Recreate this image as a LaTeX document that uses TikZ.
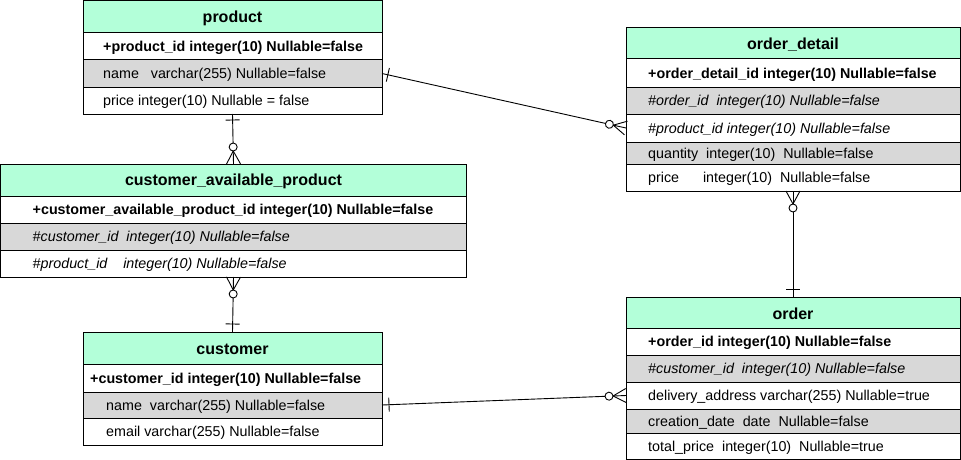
\documentclass[tikz,border=0pt]{standalone}
\usepackage{fontspec}
\setmainfont{Liberation Sans}
\usetikzlibrary{decorations.markings}
\definecolor{mint}{RGB}{179,255,217}
\definecolor{rowgray}{RGB}{216,216,216}
\tikzset{
  cell/.style={draw=black, line width=1pt, anchor=north west, inner sep=0pt, outer sep=0pt},
  hdrcell/.style={cell, fill=mint, font=\bfseries\fontsize{16}{19}\selectfont},
  celltext/.style={anchor=west, inner sep=0pt, font=\fontsize{14.3}{17}\selectfont},
  rel/.style={draw=black, line width=0.9pt},
  barstart/.style={postaction={decorate, decoration={markings,
      mark=at position #1 with {\draw[rel] (0pt,-7pt) -- (0pt,7pt);}}}},
  barend/.style={postaction={decorate, decoration={markings,
      mark=at position -#1 with {\draw[rel] (0pt,-7pt) -- (0pt,7pt);}}}},
  crowstart/.style={postaction={decorate, decoration={markings,
      mark=at position 17pt with {\draw[rel] (-4pt,0pt) -- (-17pt,7pt) (-4pt,0pt) -- (-17pt,-7pt);
        \draw[rel, fill=white] (0pt,0pt) circle (4pt);}}}},
  crowend/.style={postaction={decorate, decoration={markings,
      mark=at position -17pt with {\draw[rel] (4pt,0pt) -- (17pt,7pt) (4pt,0pt) -- (17pt,-7pt);
        \draw[rel, fill=white] (0pt,0pt) circle (4pt);}}}}
}
% name, x, ytop, width, height, fill, pad, fontprefix, text
\newcommand\erow[9]{%
  \node[cell, fill=#6, minimum width=#4pt, minimum height=#5pt] (#1) at (#2,#3) {};
  \node[celltext] (#1t) at ([xshift=#7pt, yshift=-1.5pt]#1.west) {#8#9};}
% name, x, ytop, width, height, text
\newcommand\ehdr[6]{%
  \node[hdrcell, minimum width=#4pt, minimum height=#5pt] (#1) at (#2,#3) {\raisebox{-1.5pt}[\height][\depth]{#6}};}
\begin{document}
\begin{tikzpicture}[x=1pt,y=-1pt]
\useasboundingbox (0,0) rectangle (961,460);

% product
\ehdr{pdh}{83}{1}{299}{32}{product}
\erow{pd1}{83}{33}{299}{27}{white}{20}{\bfseries}{+product\_id integer(10) Nullable=false}
\erow{pd2}{83}{60}{299}{27}{rowgray}{20}{}{name\ \ \ varchar(255) Nullable=false}
\erow{pd3}{83}{87}{299}{27}{white}{20}{}{price integer(10) Nullable = false}

% order_detail
\ehdr{odh}{626}{28}{334}{31}{order\_detail}
\erow{od1}{626}{59}{334}{28}{white}{22}{\bfseries}{+order\_detail\_id integer(10) Nullable=false}
\erow{od2}{626}{87}{334}{27}{rowgray}{22}{\itshape}{\#order\_id\ \ integer(10) Nullable=false}
\erow{od3}{626}{114}{334}{28}{white}{22}{\itshape}{\#product\_id integer(10) Nullable=false}
\erow{od4}{626}{142}{334}{22}{rowgray}{22}{}{quantity\ \ integer(10)\ \ Nullable=false}
\erow{od5}{626}{164}{334}{27}{white}{22}{}{price\ \ \ \ \ \ integer(10)\ \ Nullable=false}

% customer_available_product
\ehdr{caph}{0.5}{164}{466}{32}{customer\_available\_product}
\erow{cap1}{0.5}{196}{466}{27}{white}{32}{\bfseries}{+customer\_available\_product\_id integer(10) Nullable=false}
\erow{cap2}{0.5}{223}{466}{27}{rowgray}{32}{\itshape}{\#customer\_id\ \ integer(10) Nullable=false}
\erow{cap3}{0.5}{250}{466}{27}{white}{32}{\itshape}{\#product\_id\ \ \ \ integer(10) Nullable=false}

% customer
\ehdr{cuh}{83}{332}{299}{32}{customer}
\erow{cu1}{83}{364}{299}{28}{white}{7}{\bfseries}{+customer\_id integer(10) Nullable=false}
\erow{cu2}{83}{392}{299}{26}{rowgray}{23}{}{name\ \ varchar(255) Nullable=false}
\erow{cu3}{83}{418}{299}{27}{white}{23}{}{email varchar(255) Nullable=false}

% order
\ehdr{orh}{626}{297}{334}{31}{order}
\erow{or1}{626}{328}{334}{27}{white}{22}{\bfseries}{+order\_id integer(10) Nullable=false}
\erow{or2}{626}{355}{334}{27}{rowgray}{22}{\itshape}{\#customer\_id\ \ integer(10) Nullable=false}
\erow{or3}{626}{382}{334}{27}{white}{22}{}{delivery\_address varchar(255) Nullable=true}
\erow{or4}{626}{409}{334}{24}{rowgray}{22}{}{creation\_date\ \ date\ \ Nullable=false}
\erow{or5}{626}{433}{334}{26}{white}{22}{}{total\_price\ \ integer(10)\ \ Nullable=true}

% relationships
\draw[rel, barstart=6pt, crowend] (pd3.south) -- (caph.north);
\draw[rel, crowstart, barend=8pt] (cap3.south) -- (cuh.north);
\draw[rel, barstart=6pt, crowend] (pd2.east) -- (od3.west);
\draw[rel, barstart=7pt, crowend] (cu2.east) -- (or3.west);
\draw[rel, crowstart, barend=8pt] (od5.south) -- (orh.north);
\end{tikzpicture}
\end{document}
